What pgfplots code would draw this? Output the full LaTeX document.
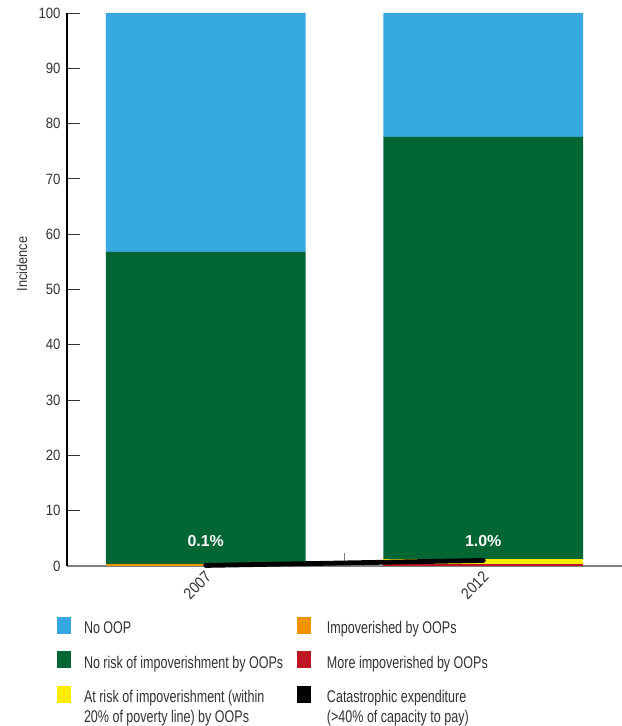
\documentclass[border=0pt]{standalone}
\usepackage{fontspec}
\setmainfont{Liberation Sans}[FakeStretch=0.74]
\newfontfamily\tickfont{Liberation Sans}[FakeStretch=0.88]
\newfontfamily\valfont{Liberation Sans}
\usepackage{pgfplots}
\usepackage{pgfplotstable}
\pgfplotsset{compat=1.18}

\definecolor{cNoOOP}{RGB}{54,169,225}
\definecolor{cNoRisk}{RGB}{0,102,51}
\definecolor{cAtRisk}{RGB}{255,237,0}
\definecolor{cImpov}{RGB}{243,146,0}
\definecolor{cMore}{RGB}{190,22,34}
\definecolor{txt}{RGB}{50,50,50}

% Incidence (%) of each group, per survey year (0 = 2007, 1 = 2012)
\pgfplotstableread{
x red orange yellow green blue
0 0.00 0.35 0.00 56.45 43.20
1 0.35 0.00 0.95 76.28 22.42
}\incidence

% Catastrophic expenditure (>40% of capacity to pay)
\pgfplotstableread{
x cat
0 0.1
1 1.0
}\catastrophic

\pgfplotsset{
  base/.style={
    width=555bp, height=553bp, scale only axis,
    xmin=-0.5, xmax=1.5, ymin=0, ymax=100,
  },
}

\begin{document}
\begin{tikzpicture}
\begin{axis}[
  base,
  ybar stacked, bar width=0.72,
  axis x line*=bottom, axis y line*=left,
  x axis line style={-, draw=gray, line width=1.3bp},
  y axis line style={-, draw=black, line width=1.8bp},
  tick align=inside,
  major tick length=13bp,
  ytick={0,10,...,100},
  y tick style={draw=black!80, line width=0.8bp},
  yticklabel style={font=\tickfont\fontsize{15}{18}\selectfont, text=txt, xshift=-3bp},
  /pgf/number format/assume math mode=true,
  xtick={0.5,1.5},
  xticklabel=\empty,
  x tick style={draw=gray, line width=1bp},
  extra x ticks={0,1},
  extra x tick labels={2007,2012},
  extra x tick style={
    major tick length=0pt,
    xticklabel style={font=\tickfont\fontsize{16}{18}\selectfont, text=txt,
      xshift=5bp, yshift=-6bp, rotate=45, anchor=east},
  },
  every axis y label/.style={at={(axis description cs:-0.081,0.546)}, rotate=90, anchor=center},
  ylabel={Incidence},
  ylabel style={font=\tickfont\fontsize{14.5}{17}\selectfont, text=txt},
]
\addplot[fill=cMore,   draw=none] table[x=x, y=red]    {\incidence};
\addplot[fill=cImpov,  draw=none] table[x=x, y=orange] {\incidence};
\addplot[fill=cAtRisk, draw=none] table[x=x, y=yellow] {\incidence};
\addplot[fill=cNoRisk, draw=none] table[x=x, y=green]  {\incidence};
\addplot[fill=cNoOOP,  draw=none] table[x=x, y=blue]   {\incidence};
\end{axis}

\begin{axis}[
  base, hide axis, clip=false,
  legend columns=2,
  legend cell align=left,
  legend image code/.code={\fill[#1, draw=none] (0bp,0bp) rectangle (14bp,17bp);},
  legend style={
    at={(-0.018,-0.0922)}, anchor=north west,
    draw=none, fill=none, inner sep=0pt, outer sep=0pt,
    font=\fontsize{17}{20}\selectfont, text=txt,
    column sep=11bp, row sep=14bp,
    cells={anchor=base west, inner sep=0pt},
  },
]
\addplot[black, line width=4.8bp, line cap=round, forget plot]
  table[x=x, y=cat] {\catastrophic};
\node[text=white, font=\valfont\bfseries\fontsize{16}{18}\selectfont]
  at (axis cs:0,4.6) {0.1\%};
\node[text=white, font=\valfont\bfseries\fontsize{16}{18}\selectfont]
  at (axis cs:1,4.6) {1.0\%};

\addlegendimage{fill=cNoOOP}
\addlegendentry{\makebox[200bp][l]{No OOP}}
\addlegendimage{fill=cImpov}
\addlegendentry{\hspace*{3bp}Impoverished by OOPs}
\addlegendimage{fill=cNoRisk}
\addlegendentry{\makebox[200bp][l]{No risk of impoverishment by OOPs}}
\addlegendimage{fill=cMore}
\addlegendentry{\hspace*{3bp}More impoverished by OOPs}
\addlegendimage{fill=cAtRisk}
\addlegendentry{\parbox[t]{200bp}{At risk of impoverishment (within\\20\% of poverty line) by OOPs}}
\addlegendimage{fill=black}
\addlegendentry{\hspace*{3bp}\parbox[t]{200bp}{Catastrophic expenditure\\(>40\% of capacity to pay)}}
\end{axis}

\pgfresetboundingbox
\path (-67bp,-160bp) rectangle (555bp,566bp);
\end{tikzpicture}
\end{document}
